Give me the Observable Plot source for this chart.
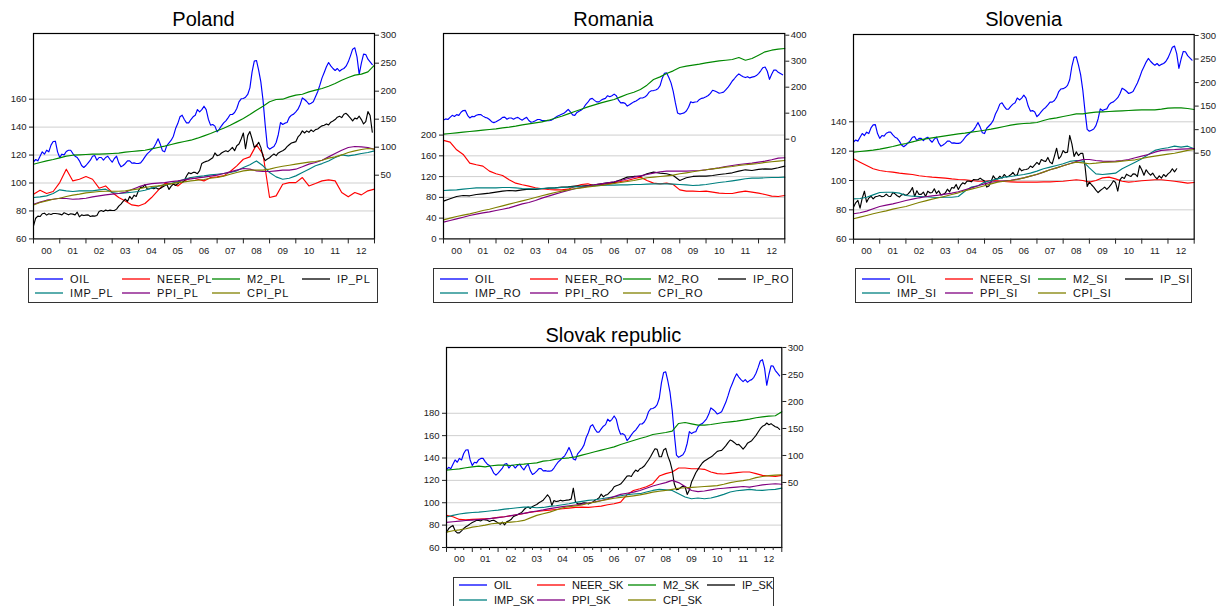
<!DOCTYPE html>
<html><head><meta charset="utf-8">
<script src="https://cdn.jsdelivr.net/npm/d3@7"></script>
<script src="https://cdn.jsdelivr.net/npm/@observablehq/plot@0.6"></script>
<style>
html,body{margin:0;padding:0;background:#fff;overflow:hidden;}
#page{position:relative;width:1222px;height:606px;overflow:hidden;font-family:"Liberation Sans",Arial,sans-serif;}
.title{position:absolute;font-size:20px;line-height:20px;color:#000;text-align:center;white-space:nowrap;width:300px;}
.legend{position:absolute;border:1px solid #333;box-sizing:border-box;background:#fff;}
.lg-item{position:absolute;display:flex;align-items:center;height:14px;font-size:11px;color:#111;white-space:nowrap;}
.lg-item svg{display:block;margin-right:7px;}
#page > svg{position:absolute;}
</style></head>
<body><div id="page"></div>
<script>
// ---------- data ----------
// OIL: monthly readings, Jan 2000 .. Dec 2012 (right axis in every panel)
const OIL = [73.8,78,75.6,83.9,91.7,87.5,94.6,91.7,103.6,110.1,110.7,91.7,
81.6,87.5,86.3,92.3,94.6,94.6,88.7,83.9,81.6,75.6,67.3,63.7,
67.3,72,76.8,83.9,85.1,76.8,81.6,81.6,76.8,81.6,83.9,78,
73.2,79.8,83.9,72,64.9,67.3,70.9,75.6,75.6,71.4,72,70.9,
70.9,72,76.8,82.8,88.1,91.7,95.8,99.4,106.5,114.9,105.4,93.5,
91.7,103,107.7,112.5,119.6,133.3,142.2,154.2,157.1,149.4,143.4,143.4,
149.4,154.2,157.1,167.2,163.1,167,173.2,167,150,139.4,140.5,137.6,
127.5,132.2,138.2,143.5,147.1,152.4,158.4,158.4,162,169.1,181,186.4,
187,189.3,194.1,206,234.6,253.6,254.8,237.5,216.7,184,139.4,100.7,
96.5,98.9,101.3,108.4,122.7,144.1,140.5,142.9,144.1,153,157.2,159,
163.2,167.9,176.2,188.1,185.2,181.6,176.8,178.6,181,189.9,198.9,210.8,
223.8,233.4,243.5,251.2,245.3,240.5,236.9,240.5,235.7,238.7,240.5,244.7,
252.4,263.1,275,277.4,261.3,230,250,266.1,265.5,257.2,252.4,247.6];

// industrial production, monthly readings
const IP_PL = [69.3,74.8,76.3,76,78,78.4,77,78,77.5,78.2,78.2,78,
77.7,77.2,78.7,78,77.2,78,77.7,77.2,79.1,75.8,77.2,76.7,
77,77.2,76,76.5,76.3,76.7,79.6,80.3,79.6,80.6,80.1,80.6,
80.3,80.3,81.3,83.4,84.9,86.8,88.5,86.8,90.4,88.5,91.3,90.4,
94.5,97.1,96.9,98.8,95.7,95.9,96.4,95.9,96.6,95.7,96.1,97.1,
98.1,99,95.4,97.8,99.2,98.3,99.5,100.9,100.4,101.6,105,107.4,
106.7,107.6,107.6,106.7,108.8,114,114.9,115.5,115.9,117,118.1,121.5,
119.6,120,121.5,122.4,123.1,122.4,123.9,125.5,123.1,126.7,127.9,131.5,
135.8,124.5,133.9,136.8,131.5,125.5,126.7,129.1,125.5,119.1,116,117.2,
118.1,119.6,120.7,119.6,121.5,122.4,123.1,124.1,126,127.4,128.6,129.1,
129.6,133,134.6,137.3,135.8,137.3,136.3,138,136.8,138.2,138.7,139.9,
140.9,141.3,142.3,141.6,143.5,144.4,145.4,147.1,147.8,146.8,149.2,149.9,
148.3,146.4,144.4,146.4,145.9,147.8,145.4,142.3,144,151.1,148.3,136.3];
const IP_SI = [81.8,84.8,86.4,81.2,88,92.7,85.2,88,89.3,87.5,88.9,89.3,
89.8,88.9,89.3,90.7,89.3,89.1,91.8,90.9,89.6,88.7,90.2,90.7,
89.8,90.9,92.5,95.2,89.1,93,90.5,90.5,92.1,89.1,92.7,91.6,
91.8,94.3,91.2,93,90.2,90.5,91.4,94.1,92.3,95.2,94.8,97.3,
93.9,96.6,98.4,97.7,99.6,99.6,99.1,100.7,100.5,100.5,101.6,100.5,
99.6,95.5,96.2,99.3,103.2,101.1,101.1,102.9,101.6,104.1,102.5,102.9,
103.9,105.5,103.4,103.9,108.4,106.6,107.3,107.5,108,109.8,108.9,110.7,
112.3,110.9,114.3,113.4,113,115.7,112.5,111.4,116.6,122,114.8,116.6,
120.4,118.9,119.3,130.7,125,116.4,119.5,117,118.5,118.5,110,96,
98.9,97.1,95.5,93.4,91.8,93.2,94.3,95.5,93.9,95.5,97.3,99.8,
98.6,92.8,100.5,102.3,101.4,104.3,103.4,102.7,104.5,104.3,102.7,110.2,
107.3,103.6,107.3,105.2,103.6,105,102.7,101.1,103.2,101.6,104.1,102.7,
104.5,105.7,108,105.9,108];
const IP_SK = [73.1,77,78.5,79.7,74.9,73.1,73.1,74.9,77,78.5,79.7,81.1,
82.3,83.2,84.4,84.1,83.8,85,84.7,84.4,83.2,84.1,84.4,83.2,
82,80.8,82.6,80.2,82.9,83.8,85,87.4,88.3,89.2,90.4,91.3,
93.7,95.5,96.1,94.9,96.7,97.6,98.5,100,101.1,102.3,104.7,107.1,
104.7,97.6,102,101.1,101.4,102.3,101.7,102,102.3,102.6,103.2,113,
100.8,99.1,99.1,99.4,100,99.7,98.8,99.7,100.5,102.3,103.2,104.4,
107.7,105.3,106.8,107.4,109.5,111.3,114.3,115.2,115.8,116.7,118.8,121.4,
123.8,124.1,123.5,126.8,129.2,128,130.4,131.3,132.8,135.5,138.2,141.4,
145,148.3,147.7,141.1,141.1,147.1,148.6,141.7,136.7,129.2,116.7,111.6,
112.2,113.7,114.9,114.3,107.4,111.3,118.5,122.6,126.8,129.8,132.8,135.5,
137.3,138.5,139.7,140.8,142.3,144.1,145.9,146.5,146.8,148.9,151,153.7,
156.1,155.2,153.7,151.9,152.2,150.1,148,150.1,153.1,154.3,155.5,157.9,
160.2,163.2,166.2,168.3,169.2,171.3,169.8,170.7,169.2,168,167.4,165.6];

// other series: quarterly readings, 2000Q1 .. end 2012
const NEER_PL = [92.0,94.8,92.5,93.9,100.3,109.9,101.5,102.7,104.6,102.7,96.3,97.9,93.2,89.6,87.2,84.3,83.6,85.3,89.6,94.8,99.6,99.6,97.9,101.5,103.9,102.7,101.5,103.9,104.4,105.1,108.2,112.3,117.0,118.7,127.3,120.6,89.6,90.8,99.1,100.3,100.3,103.9,97.9,99.6,101.5,102.2,101.5,93.2,90.1,93.2,91.5,94.4,95.6];
const M2_PL = [69.6,72.6,75.6,78.0,81.0,84.0,85.7,86.3,86.9,87.5,87.5,88.1,88.7,89.3,91.1,92.3,93.5,94.6,97.0,99.4,101.8,104.8,107.7,110.1,112.5,116.1,120.2,124.4,129.2,133.9,139.3,145.2,151.2,158.3,166.1,173.2,181.0,185.1,185.7,189.9,192.9,194.6,198.8,201.8,204.8,208.9,213.7,219.6,224.4,228.6,230.4,234.5,246.4];
const IMP_PL = [89.6,90.1,90.8,92.5,95.1,94.4,93.9,94.4,94.4,94.4,95.1,95.6,93.2,92.5,92.9,93.4,93.9,94.8,96.3,97.7,98.7,99.6,101.0,102.7,103.9,104.6,105.1,105.8,106.3,106.8,107.5,108.7,111.1,113.0,115.8,112.3,107.5,104.4,102.7,103.4,105.1,107.5,109.9,112.3,113.9,115.8,118.2,120.1,119.4,120.1,121.1,121.8,123.0];
const PPI_PL = [84.8,86.3,87.7,88.4,89.1,88.9,88.4,88.6,89.1,90.1,90.8,91.5,92.0,92.5,93.4,95.3,97.2,98.7,99.6,99.9,100.3,101.0,101.5,102.2,103.0,103.7,104.2,104.9,105.6,106.8,108.0,109.2,110.4,109.9,108.7,108.2,108.2,108.7,109.2,109.2,109.9,111.6,113.5,114.7,116.3,118.7,121.1,123.5,125.4,126.1,125.9,125.4,124.2];
const CPI_PL = [84.3,86.0,87.2,88.4,89.1,90.3,91.3,92.0,92.9,93.4,93.9,94.1,94.1,94.1,94.4,95.1,95.8,96.8,97.5,97.9,98.7,99.6,100.3,100.8,101.5,102.0,102.5,103.4,103.9,104.9,106.3,107.5,108.7,109.2,109.2,109.2,109.9,111.1,112.0,112.7,113.5,114.2,114.9,115.4,116.3,117.8,118.7,120.1,121.8,123.0,124.0,124.7,124.2];

const NEER_RO = [189.7,186.5,171.7,162.7,146.0,142.8,140.2,130.5,125.4,122.2,113.8,107.4,104.2,101.6,98.4,96.5,95.2,94.5,94.5,95.8,101.0,104.8,106.1,102.3,104.2,106.1,108.0,110.6,112.5,115.8,119.0,112.5,107.4,106.1,107.4,104.8,94.5,92.0,92.0,91.3,92.0,90.0,88.1,87.5,87.5,90.0,92.0,90.0,88.1,85.5,82.3,81.7,83.6];
const M2_RO = [19.2,21.8,24.4,26.9,29.5,32.1,34.6,37.2,39.7,43.6,46.2,50.0,55.1,59.0,62.8,66.7,73.1,80.8,88.5,97.4,106.4,115.4,124.4,132.1,139.7,146.2,152.6,162.8,173.1,180.8,191.0,207.7,229.5,239.7,252.6,262.8,275.6,280.8,284.6,288.5,293.6,297.4,301.3,303.8,306.4,314.1,303.8,310.3,323.1,335.9,342.3,346.2,348.7];
const IP_RO = [72.7,77.2,81.7,83.6,83.0,85.5,86.8,88.1,90.0,92.0,93.2,92.6,94.5,95.8,95.2,96.5,97.7,98.4,99.7,100.3,101.6,101.6,102.9,104.2,106.1,108.0,109.3,113.8,119.0,120.3,120.3,125.4,128.6,126.7,125.4,122.2,112.5,117.7,120.3,120.9,120.9,122.2,124.1,125.4,127.3,130.5,133.1,131.8,133.8,135.0,134.4,137.0,140.2];
const IMP_RO = [93.2,93.9,94.5,95.8,97.1,98.4,98.4,98.4,98.4,99.0,99.0,98.4,97.1,96.5,96.5,97.1,97.7,98.4,99.0,99.7,100.3,101.0,101.6,102.3,102.9,103.5,103.5,104.2,104.2,104.8,104.8,105.5,106.1,106.1,106.1,105.5,104.8,104.2,102.9,103.5,104.8,106.8,108.7,110.0,111.9,113.8,115.8,117.0,117.0,117.7,118.3,118.3,119.0];
const PPI_RO = [32.2,35.4,38.6,41.8,45.0,47.6,50.2,52.1,54.7,57.2,59.8,63.7,67.5,70.1,74.0,78.5,82.3,86.2,90.0,93.2,96.5,99.0,101.6,104.2,106.1,108.0,110.0,112.5,115.8,119.0,121.5,124.1,126.7,129.3,130.5,130.5,130.5,130.5,131.2,131.8,133.1,135.0,137.0,139.5,141.5,143.4,144.7,146.0,147.9,149.8,152.4,155.6,156.3];
const CPI_RO = [36.7,39.9,43.1,45.7,48.2,51.4,54.7,57.2,60.5,63.7,66.9,70.1,73.3,76.5,79.7,83.0,86.2,89.4,92.0,94.5,96.5,98.4,100.3,101.6,102.9,104.8,106.8,108.7,110.6,112.5,115.1,117.7,119.0,120.3,121.5,122.8,125.4,127.3,129.3,131.2,133.1,135.0,136.3,138.3,139.5,141.5,142.8,144.0,145.3,147.3,148.6,149.8,151.1];

const NEER_SI = [114.8,112.5,110.2,108.0,106.8,106.1,105.7,105.0,104.5,104.1,103.2,102.7,102.3,102.0,101.6,101.1,100.7,100.5,100.0,99.5,99.5,100.0,99.8,99.3,99.1,98.9,98.9,98.9,98.9,99.1,99.1,99.3,99.5,100.0,100.5,100.0,98.9,100.0,101.8,102.3,101.1,99.5,98.9,99.3,99.8,100.2,100.5,100.5,100.0,99.5,98.9,98.2,98.6];
const M2_SI = [52.1,53.5,55.0,56.4,58.5,61.3,64.2,67.7,70.5,74.1,77.6,80.5,82.6,84.7,86.8,89.0,91.1,92.5,94.6,96.7,98.8,101.0,103.8,106.7,109.5,111.6,113.0,113.7,115.2,119.4,123.0,125.1,127.9,130.7,133.6,133.6,135.7,137.1,137.8,138.5,139.2,139.9,140.6,141.4,142.1,142.1,142.1,143.5,145.6,146.3,146.3,144.9,142.8];
const IMP_SI = [87.5,87.7,88.6,90.2,91.8,92.0,92.0,91.4,89.8,89.3,89.1,88.9,88.6,88.4,88.6,88.6,89.1,92.7,95.5,96.4,98.9,100.0,101.1,102.3,102.7,103.4,104.1,105.0,106.4,108.0,109.1,110.2,111.4,113.0,113.6,113.2,108.6,104.5,104.1,104.5,105.0,108.0,110.2,112.5,114.8,117.7,120.5,121.6,122.3,123.4,122.7,123.4,121.6];
const PPI_SI = [77.3,78.0,79.1,80.7,82.3,83.2,84.1,85.2,86.4,87.3,88.2,88.9,89.5,90.0,90.7,91.4,92.3,93.6,95.0,96.4,97.7,98.9,99.3,99.8,100.2,100.9,101.8,103.0,104.1,105.7,107.3,108.6,110.0,111.4,113.0,114.3,114.3,113.6,113.2,113.0,113.2,113.6,114.3,115.5,116.6,117.7,119.3,120.5,120.9,121.1,121.4,121.6,121.8];
const CPI_SI = [73.9,75.0,76.1,77.3,78.4,79.3,80.5,81.4,82.3,83.6,85.0,86.1,87.3,88.2,89.3,90.5,91.6,93.0,94.1,95.2,96.4,97.7,98.9,99.5,100.0,100.7,101.8,103.0,104.3,105.7,107.3,108.6,110.0,111.4,112.5,112.0,111.4,111.8,112.3,112.5,112.7,113.2,113.6,114.1,115.0,115.9,116.6,117.3,118.0,118.6,119.5,120.5,121.1];

const NEER_SK = [88.7,87.5,85.1,84.8,85.1,85.4,85.7,86.0,86.9,87.5,88.4,89.3,90.4,91.6,92.2,92.8,93.4,94.0,94.6,95.2,95.8,96.1,95.8,96.4,97.0,98.2,99.1,100.6,107.2,111.0,112.5,114.3,117.0,123.9,126.0,127.5,131.1,131.1,130.4,130.4,129.9,127.5,126.0,125.7,126.3,126.9,127.5,127.5,126.0,124.5,123.9,123.6,124.5];
const M2_SK = [72.8,74.1,75.3,77.2,79.0,80.2,79.0,80.9,82.1,82.1,81.5,83.3,84.0,85.2,86.4,89.5,90.7,93.2,94.4,95.7,97.5,100.6,103.7,106.8,109.9,113.0,116.0,120.4,124.1,127.8,131.5,134.6,138.9,140.7,142.6,145.1,159.3,161.1,158.6,156.2,156.2,157.4,159.3,161.1,162.3,163.6,165.4,167.3,169.8,171.6,172.8,173.5,180.9];
const IMP_SK = [87.2,88.7,89.9,90.7,91.3,91.6,92.2,92.8,93.4,94.3,94.9,95.5,96.1,96.1,95.5,95.8,96.7,97.3,98.2,99.1,100.3,101.2,102.1,102.7,103.6,104.5,105.4,106.3,107.2,107.8,108.1,109.6,111.0,111.9,111.6,111.0,108.1,105.1,103.6,104.2,103.6,104.2,105.7,107.5,109.6,110.7,111.3,111.9,111.3,111.0,111.6,111.9,113.1];
const PPI_SK = [82.4,83.0,83.6,84.1,84.5,85.0,85.4,86.0,86.7,87.5,88.5,89.5,90.5,91.6,92.6,93.6,94.8,95.6,96.5,97.2,98.0,98.8,99.8,100.8,102.0,103.5,105.5,107.5,108.5,109.5,111.0,113.0,115.0,116.5,118.0,120.0,118.0,114.5,111.0,110.0,110.5,111.5,112.5,113.0,113.5,114.0,114.5,114.0,115.0,116.0,116.5,117.0,116.5];
const CPI_SK = [73.7,75.0,75.8,76.8,78.2,79.0,80.0,81.2,81.8,82.2,82.7,83.2,84.2,86.5,88.7,90.2,91.6,93.5,95.5,96.5,97.2,98.0,99.5,100.6,101.8,103.0,104.0,104.8,105.5,106.2,107.0,108.2,109.5,110.3,111.0,112.0,113.0,113.4,113.8,114.1,114.5,114.9,115.3,116.5,118.0,119.0,119.8,120.8,122.5,123.5,124.2,124.7,125.0];

const YEARS = [2000,2001,2002,2003,2004,2005,2006,2007,2008,2009,2010,2011,2012];
const YEAR_LABELS = ["00","01","02","03","04","05","06","07","08","09","10","11","12"];
const LEFT_TICKS_PL = [60,80,100,120,140,160];
const LEFT_TICKS_RO = [0,40,80,120,160,200];
const LEFT_TICKS_SI = [60,80,100,120,140];
const LEFT_TICKS_SK = [60,80,100,120,140,160,180];
const RIGHT_TICKS_STD = [50,100,150,200,250,300];
const RIGHT_TICKS_RO = [0,100,200,300,400];

// time grids (quarterly and monthly positions)
const TQ = d3.range(53).map(k => 2000 + k / 4);
const TM = d3.range(156).map(m => 2000 + m / 12);

const COLORS = {OIL:"#0000ff", NEER:"#ff0000", M2:"#008800", IP:"#000000", IMP:"#008080", PPI:"#800080", CPI:"#808000"};

function makeSeries(code, d) {
  return [
    {name:"OIL", key:"OIL", values:OIL, t:TM, axis:"right"},
    {name:"NEER_"+code, key:"NEER", values:d.NEER, t:TQ, axis:"left"},
    {name:"M2_"+code, key:"M2", values:d.M2, t:TQ, axis:"right"},
    {name:"IP_"+code, key:"IP", values:d.IP, t:d.IPT, axis:"left"},
    {name:"IMP_"+code, key:"IMP", values:d.IMP, t:TQ, axis:"left"},
    {name:"PPI_"+code, key:"PPI", values:d.PPI, t:TQ, axis:"left"},
    {name:"CPI_"+code, key:"CPI", values:d.CPI, t:TQ, axis:"left"}
  ];
}

const page = document.getElementById("page");
const SVGNS = "http://www.w3.org/2000/svg";

function panel(cfg) {
  const {title, titleBaseline, fL, fR, fT, fB, leftDom, rightDom, leftTicks, rightTicks, series, minor, legend} = cfg;
  const mL = 36, mR = 32, mT = 4, mB = 26;
  const width = (fR - fL) + mL + mR;
  const height = (fB - fT) + mT + mB;
  const toLeft = d3.scaleLinear().domain(rightDom).range(leftDom);
  const grid = leftTicks.filter(v => v !== leftDom[0]);
  const bounds = YEARS.concat([2013]);
  const mids = YEARS.map(y => y + 0.5);
  const marks = [
    Plot.ruleY(grid, {stroke:"#cfcfcf", strokeWidth:1})
  ];
  series.forEach(s => {
    const pts = s.values.map((v, i) => ({t: s.t[i], v: s.axis === "right" ? toLeft(v) : v}));
    marks.push(Plot.line(pts, {x:"t", y:"v", stroke:COLORS[s.key], strokeWidth:1.15}));
  });
  marks.push(Plot.frame({stroke:"#000", strokeWidth:1.2}));
  marks.push(Plot.axisY({anchor:"left", ticks:leftTicks, tickSize:4, tickPadding:3, label:null, tickFormat:d => String(d)}));
  marks.push(Plot.axisY({anchor:"right", ticks:rightTicks.map(r => toLeft(r)), tickSize:4, tickPadding:2, label:null, tickFormat:d => String(Math.round(toLeft.invert(d)))}));
  marks.push(Plot.axisX({ticks:bounds, tickSize:5, tickFormat:() => "", label:null}));
  if (minor) {
    const mn = [];
    YEARS.forEach(y => { mn.push(y + 1/3); mn.push(y + 2/3); });
    marks.push(Plot.axisX({ticks:mn, tickSize:3, tickFormat:() => "", label:null}));
  }
  marks.push(Plot.axisX({ticks:mids, tickSize:0, tickPadding:8, label:null, tickFormat:d => YEAR_LABELS[YEARS.indexOf(Math.floor(d))]}));
  const svg = Plot.plot({
    width, height, marginLeft:mL, marginRight:mR, marginTop:mT, marginBottom:mB,
    x:{type:"linear", domain:[2000, 2013]},
    y:{type:"linear", domain:leftDom},
    style:{fontFamily:"'Liberation Sans', Arial, sans-serif", fontSize:"9.5px", color:"#222", background:"transparent", overflow:"visible"},
    marks
  });
  svg.style.left = (fL - mL) + "px";
  svg.style.top = (fT - mT) + "px";
  page.appendChild(svg);

  const t = document.createElement("div");
  t.className = "title";
  t.textContent = title;
  t.style.left = ((fL + fR) / 2 - 150) + "px";
  t.style.top = (titleBaseline - 17) + "px";
  page.appendChild(t);

  const lg = document.createElement("div");
  lg.className = "legend";
  lg.style.left = legend.x + "px";
  lg.style.top = legend.y + "px";
  lg.style.width = legend.w + "px";
  lg.style.height = "35px";
  series.forEach((s, i) => {
    const it = document.createElement("div");
    it.className = "lg-item";
    it.style.left = legend.cols[i % 4] + "px";
    it.style.top = (i < 4 ? legend.rows[0] : legend.rows[1]) + "px";
    it.style.letterSpacing = legend.ls + "px";
    const ls = document.createElementNS(SVGNS, "svg");
    ls.setAttribute("width", "28");
    ls.setAttribute("height", "6");
    const ln = document.createElementNS(SVGNS, "line");
    ln.setAttribute("x1", "0"); ln.setAttribute("x2", "28");
    ln.setAttribute("y1", "3"); ln.setAttribute("y2", "3");
    ln.setAttribute("stroke", COLORS[s.key]);
    ln.setAttribute("stroke-width", "1.3");
    ls.appendChild(ln);
    it.appendChild(ls);
    const tx = document.createElement("span");
    tx.textContent = s.name;
    it.appendChild(tx);
    lg.appendChild(it);
  });
  page.appendChild(lg);
}

panel({title:"Poland", titleBaseline:26, fL:33, fR:374, fT:33.3, fB:238.7,
  leftDom:[60, 207], rightDom:[-63.75, 303], leftTicks:LEFT_TICKS_PL, rightTicks:RIGHT_TICKS_STD,
  series:makeSeries("PL", {NEER:NEER_PL, M2:M2_PL, IP:IP_PL, IPT:TM, IMP:IMP_PL, PPI:PPI_PL, CPI:CPI_PL}),
  legend:{x:28, y:268, w:350, rows:[3, 17], ls:0.7, cols:[6, 93, 183, 273]}});
panel({title:"Romania", titleBaseline:26, fL:442.7, fR:784, fT:33.3, fB:238.7,
  leftDom:[0, 395.7], rightDom:[-383.5, 406.5], leftTicks:LEFT_TICKS_RO, rightTicks:RIGHT_TICKS_RO,
  series:makeSeries("RO", {NEER:NEER_RO, M2:M2_RO, IP:IP_RO, IPT:TQ, IMP:IMP_RO, PPI:PPI_RO, CPI:CPI_RO}),
  legend:{x:433, y:268, w:360, rows:[3, 17], ls:0.7, cols:[6, 96, 189, 284]}});
panel({title:"Slovenia", titleBaseline:26, fL:853.3, fR:1194, fT:34, fB:238.7,
  leftDom:[60, 199.5], rightDom:[-132.7, 302.1], leftTicks:LEFT_TICKS_SI, rightTicks:RIGHT_TICKS_STD,
  series:makeSeries("SI", {NEER:NEER_SI, M2:M2_SI, IP:IP_SI, IPT:TM.slice(0, IP_SI.length), IMP:IMP_SI, PPI:PPI_SI, CPI:CPI_SI}),
  legend:{x:855, y:268, w:337, rows:[3, 17], ls:0.6, cols:[6, 89, 182, 269]}});
panel({title:"Slovak republic", titleBaseline:341.5, fL:445.7, fR:781, fT:347.3, fB:547.3,
  leftDom:[60, 238.8], rightDom:[-70.4, 300], leftTicks:LEFT_TICKS_SK, rightTicks:RIGHT_TICKS_STD,
  series:makeSeries("SK", {NEER:NEER_SK, M2:M2_SK, IP:IP_SK, IPT:TM, IMP:IMP_SK, PPI:PPI_SK, CPI:CPI_SK}),
  legend:{x:453, y:577, w:321, rows:[0, 15], ls:0, cols:[5, 83, 174, 253]}, minor:true});
</script></body></html>
